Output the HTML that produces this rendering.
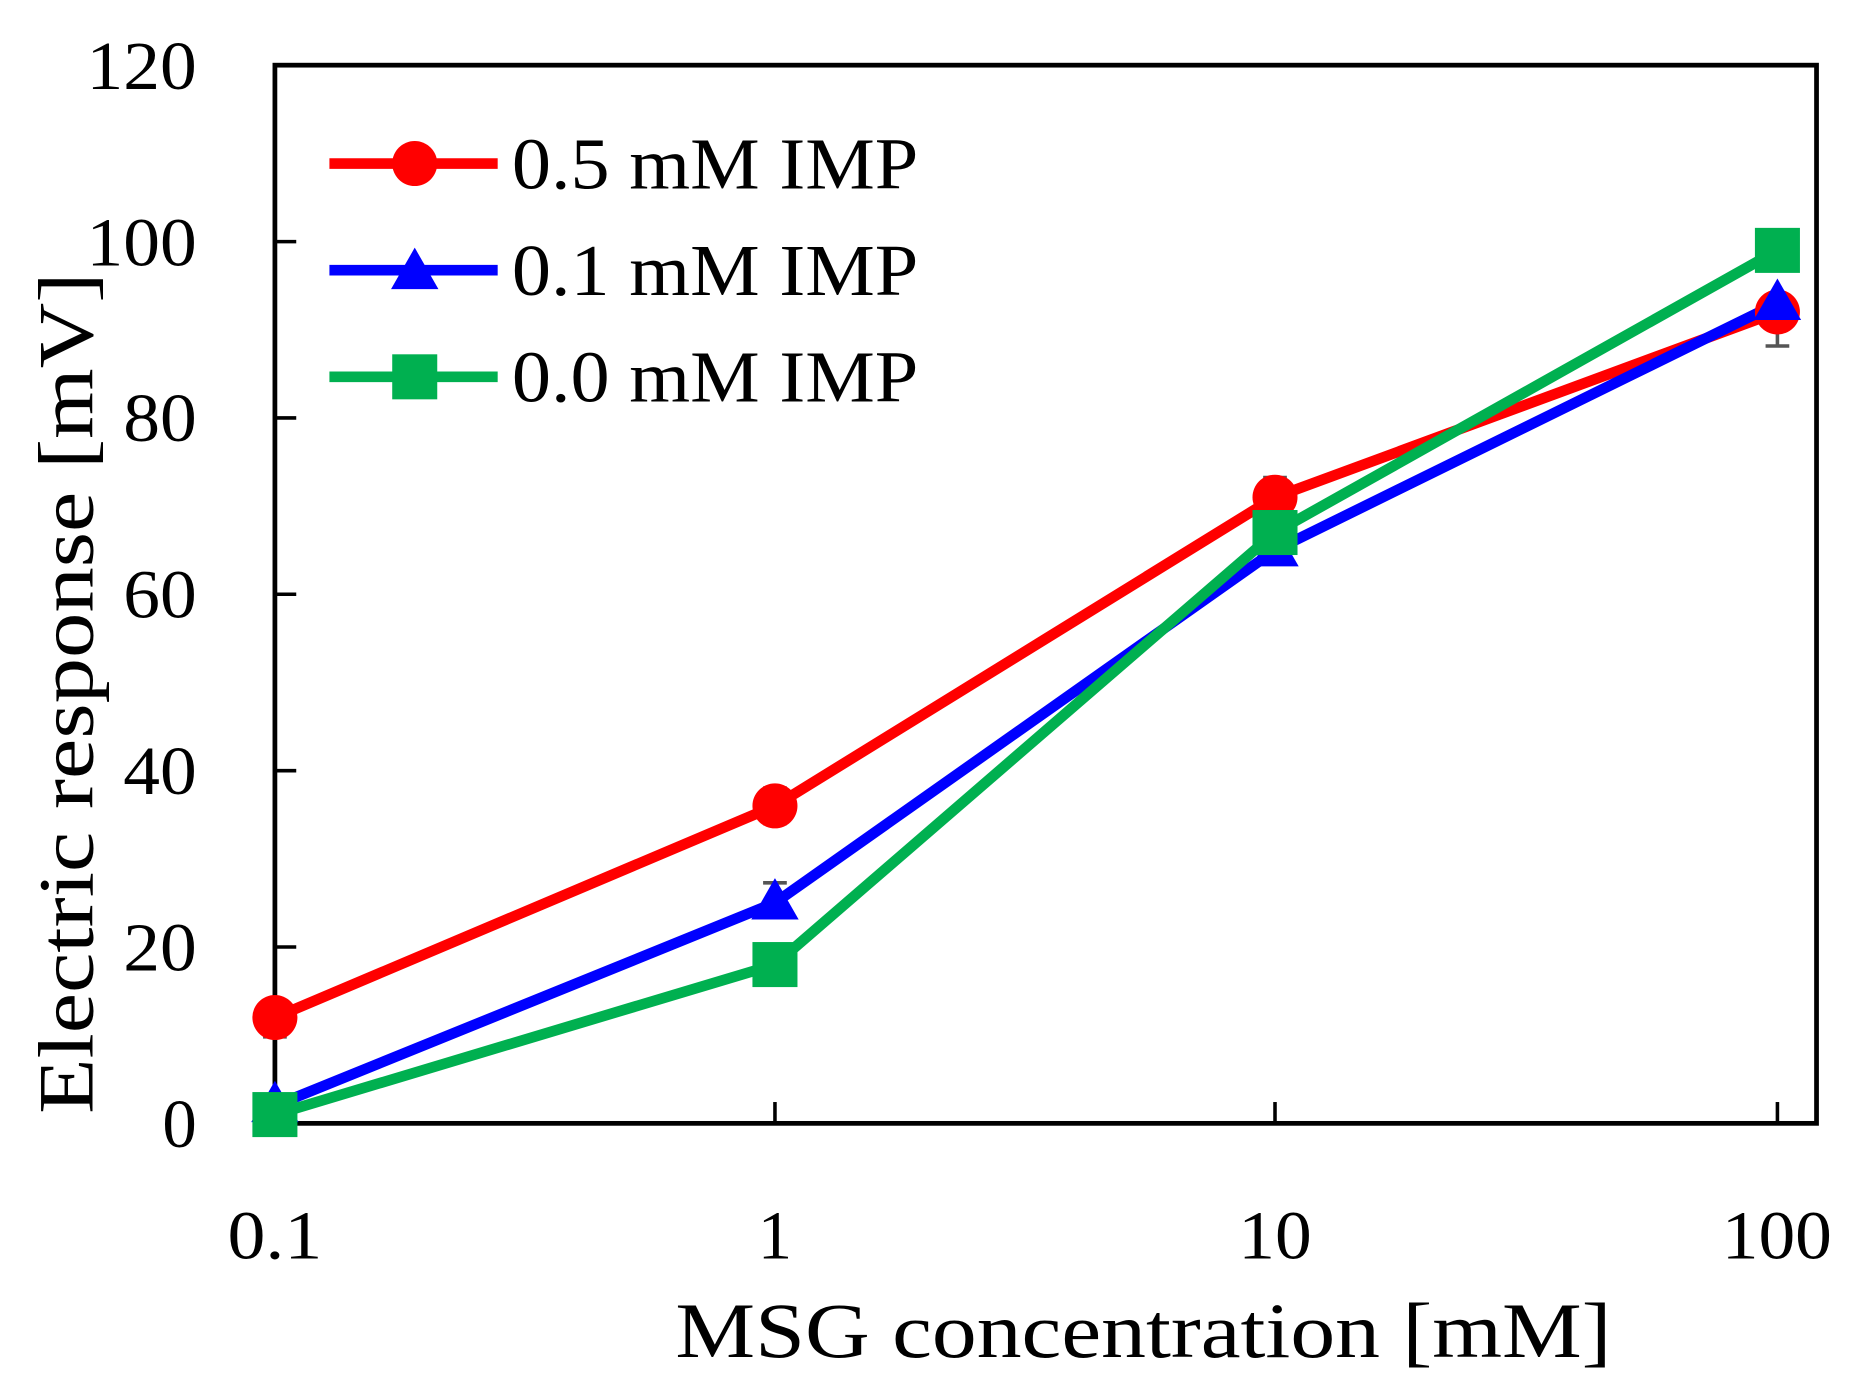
<!DOCTYPE html>
<html><head><meta charset="utf-8"><style>html,body{margin:0;padding:0;background:#fff}svg{display:block}</style></head>
<body>
<svg width="1858" height="1394" viewBox="0 0 1568 1176.4" preserveAspectRatio="none" xmlns="http://www.w3.org/2000/svg" font-family="'Liberation Serif', serif">
<rect x="232" y="55" width="1301" height="893" fill="none" stroke="#000" stroke-width="4"/>
<g stroke="#000" stroke-width="3">
<line x1="654" y1="948" x2="654" y2="930"/><line x1="1076" y1="948" x2="1076" y2="930"/><line x1="1500" y1="948" x2="1500" y2="930"/>
<line x1="232" y1="799.2" x2="250" y2="799.2"/><line x1="232" y1="650.4" x2="250" y2="650.4"/><line x1="232" y1="501.5" x2="250" y2="501.5"/><line x1="232" y1="352.7" x2="250" y2="352.7"/><line x1="232" y1="203.9" x2="250" y2="203.9"/>
</g>
<g font-size="58" text-anchor="end" fill="#000">
<text x="166" y="968">0</text>
<text x="166" y="819" textLength="62" lengthAdjust="spacingAndGlyphs">20</text>
<text x="166" y="670" textLength="62" lengthAdjust="spacingAndGlyphs">40</text>
<text x="166" y="521" textLength="62" lengthAdjust="spacingAndGlyphs">60</text>
<text x="166" y="372" textLength="62" lengthAdjust="spacingAndGlyphs">80</text>
<text x="166" y="224" textLength="93" lengthAdjust="spacingAndGlyphs">100</text>
<text x="166" y="75" textLength="93" lengthAdjust="spacingAndGlyphs">120</text>
</g>
<g font-size="58" fill="#000">
<text x="192" y="1062" textLength="80" lengthAdjust="spacingAndGlyphs">0.1</text>
<text x="654" y="1062" text-anchor="middle">1</text>
<text x="1045" y="1062" textLength="62" lengthAdjust="spacingAndGlyphs">10</text>
<text x="1453" y="1062" textLength="93" lengthAdjust="spacingAndGlyphs">100</text>
</g>
<text x="570" y="1145" font-size="66" textLength="790" lengthAdjust="spacingAndGlyphs">MSG concentration [mM]</text>
<text transform="translate(78,940) rotate(-90)" font-size="66" textLength="710" lengthAdjust="spacingAndGlyphs">Electric response [mV]</text>
<g stroke="#555" stroke-width="3" fill="none">
<path d="M222 845h20M232 845v30M222 875h20M644 665h20M654 665v30M644 695h20M1066 403h20M1076 403v30M1066 433h20M1490 262h20M1500 262v30M1490 292h20M644 745h20M654 745v25M644 770h20"/>
</g>
<polyline points="232,858.7 654,680.1 1076,419.6 1500,263.3" fill="none" stroke="#f00" stroke-width="9"/>
<polyline points="232,933.1 654,761.9 1076,464.3 1500,255.9" fill="none" stroke="#00f" stroke-width="9"/>
<polyline points="232,940.6 654,814 1076,449.4 1500,211.3" fill="none" stroke="#00b050" stroke-width="9"/>
<g fill="#f00"><circle cx="232" cy="858.7" r="19"/><circle cx="654" cy="680.1" r="19"/><circle cx="1076" cy="419.6" r="19"/><circle cx="1500" cy="263.3" r="19"/></g>
<g fill="#00f"><path d="M232 912l20 35h-40z"/><path d="M654 741l20 35h-40z"/><path d="M1076 443l20 35h-40z"/><path d="M1500 235l20 35h-40z"/></g>
<g fill="#00b050"><rect x="213" y="921.6" width="38" height="38"/><rect x="635" y="795" width="38" height="38"/><rect x="1057" y="430.4" width="38" height="38"/><rect x="1481" y="192.3" width="38" height="38"/></g>
<line x1="278" y1="138" x2="420" y2="138" stroke="#f00" stroke-width="9"/><circle cx="350" cy="138" r="19" fill="#f00"/>
<line x1="278" y1="228" x2="420" y2="228" stroke="#00f" stroke-width="9"/><path d="M350 209l20 35h-40z" fill="#00f"/>
<line x1="278" y1="318" x2="420" y2="318" stroke="#00b050" stroke-width="9"/><rect x="331" y="299" width="38" height="38" fill="#00b050"/>
<g font-size="62" fill="#000">
<text x="432" y="159" textLength="343" lengthAdjust="spacingAndGlyphs">0.5 mM IMP</text>
<text x="432" y="249" textLength="343" lengthAdjust="spacingAndGlyphs">0.1 mM IMP</text>
<text x="432" y="339" textLength="343" lengthAdjust="spacingAndGlyphs">0.0 mM IMP</text>
</g>
</svg>
</body></html>
